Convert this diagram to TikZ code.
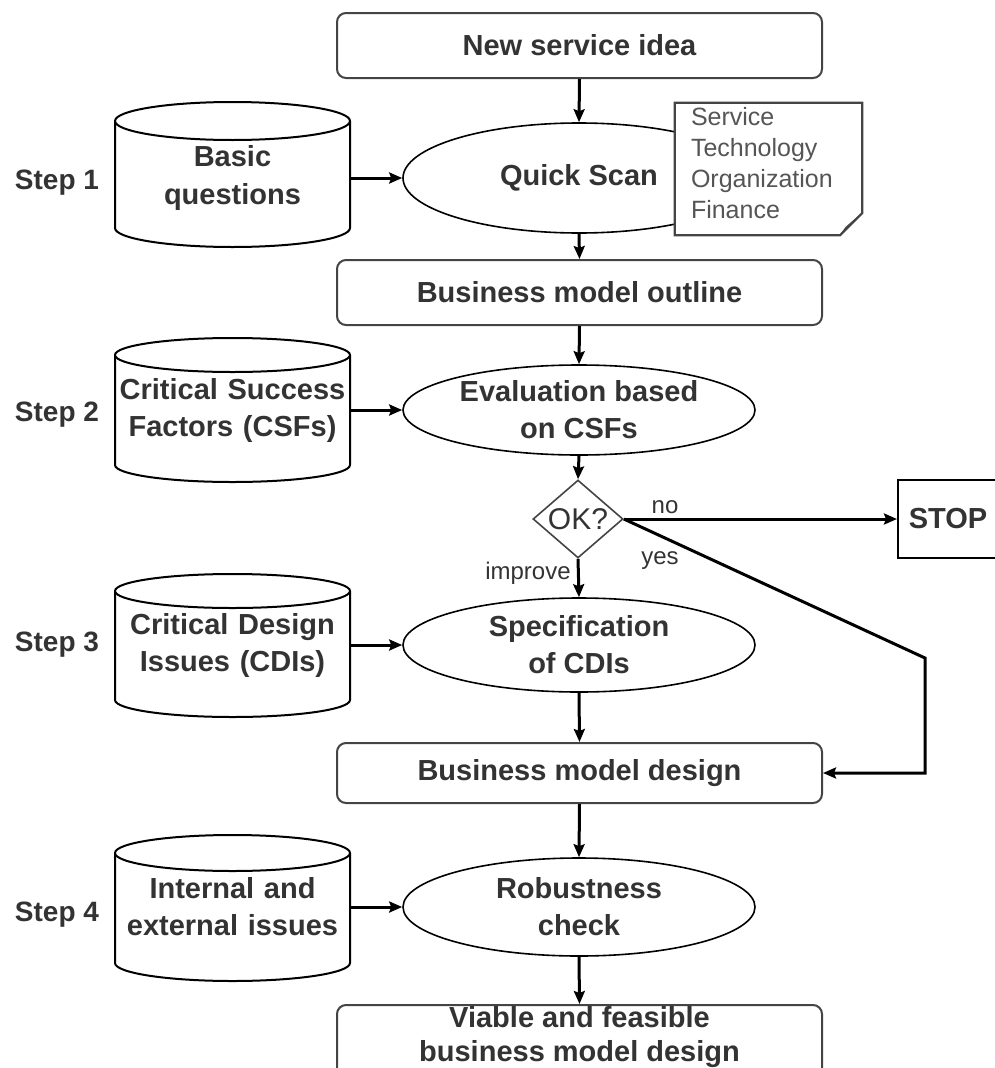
\documentclass[tikz,border=0pt]{standalone}
\usepackage{fontspec}
\setmainfont{Liberation Sans}
\usetikzlibrary{shapes.geometric,arrows.meta,calc}
\definecolor{ink}{HTML}{333333}
\definecolor{edge}{HTML}{444444}
\definecolor{notegray}{HTML}{555555}

% database drum: centre x, top rim y, bottom rim y, rim half-height
\newcommand\drum[4]{%
  \filldraw[cylline] (#1-117.5,#2) -- (#1-117.5,#3)
     arc[start angle=180,end angle=360,x radius=117.5pt,y radius=#4pt]
     -- (#1+117.5,#2)
     arc[start angle=0,end angle=180,x radius=117.5pt,y radius=#4pt] -- cycle;
  \draw[cylline] (#1+117.5,#2)
     arc[start angle=0,end angle=-180,x radius=117.5pt,y radius=#4pt];
}

\begin{document}
\begin{tikzpicture}[x=1pt,y=1pt,
  txt/.style={font=\fontsize{29}{37}\selectfont\bfseries, text=ink, align=center},
  box/.style={txt, draw=edge, line width=2pt, rounded corners=9pt, fill=white,
              minimum width=485pt, minimum height=65pt, inner sep=0pt},
  proc/.style={txt, ellipse, draw=black, line width=1.6pt, fill=white,
               minimum width=352pt, inner sep=0pt},
  store/.style={txt, text width=235pt, inner sep=0pt},
  cylline/.style={draw=black, line width=2pt, fill=white},
  flow/.style={draw=black, line width=3pt, -{Stealth[length=13pt,width=11pt,inset=2pt]}},
  steplbl/.style={font=\fontsize{28}{34}\selectfont\bfseries, text=ink},
  small/.style={font=\fontsize{24}{28}\selectfont, text=ink, inner sep=0pt},
  notetxt/.style={font=\fontsize{25}{31}\selectfont, text=notegray, align=left, inner sep=0pt}]

\useasboundingbox (0,0) rectangle (995,-1068);

% data stores
\drum{232.5}{-121}{-228}{19}
\drum{232.5}{-355}{-465}{17}
\drum{232.5}{-591}{-700}{17}
\drum{232.5}{-853}{-963}{18}
\node[store] (q1) at (232.5,-178) {Basic\\questions};
\node[store] (q2) at (232.5,-410) {Critical Success\\Factors (CSFs)};
\node[store] (q3) at (232.5,-645) {Critical Design\\Issues (CDIs)};
\node[store] (q4) at (232.5,-907) {Internal and\\external issues};

% step labels
\node[steplbl] (s1) at (57,-183) {Step 1};
\node[steplbl] (s2) at (57,-415) {Step 2};
\node[steplbl] (s3) at (57,-645) {Step 3};
\node[steplbl] (s4) at (57,-915) {Step 4};

% main flow
\node[box] (idea) at (579.5,-45.5) {New service idea};
\node[proc, minimum height=110pt] (scan) at (579,-178) {Quick Scan};
\node[box] (outline) at (579.5,-292.5) {Business model outline};
\node[proc, minimum height=90pt] (eval) at (579,-410) {Evaluation based\\on CSFs};
\node[diamond, draw=edge, line width=1.6pt, fill=white, minimum width=90pt,
      minimum height=78pt, inner sep=0pt] (ok) at (578,-519) {};
\node[font=\fontsize{30}{34}\selectfont, text=ink, inner sep=0pt] (oktext) at (ok) {OK?};
\node[txt, draw=black, line width=2pt, fill=white, minimum width=100pt,
      minimum height=78pt, inner sep=0pt] (stop) at (948,-519) {STOP};
\node[proc, minimum height=94pt] (spec) at (579,-645) {Specification\\of CDIs};
\node[box, minimum height=60pt] (design) at (579.5,-773) {Business model design};
\node[proc, minimum height=98pt] (rob) at (579,-907) {Robustness\\check};
% final result box runs past the lower edge
\node[box, minimum height=90pt] (viable) at (579.5,-1050) {};
\node[txt, font=\fontsize{29}{34}\selectfont\bfseries, inner sep=0pt]
  (viabletext) at (579.5,-1037) {Viable and feasible\\business model design};

% annotation sheet over the quick scan
\node[minimum width=187pt, minimum height=132pt, inner sep=0pt] (note) at (768.5,-169) {};
\filldraw[draw=edge, line width=2.2pt, fill=white]
  (note.north west) -- (note.north east) -- ($(note.south east)+(0,22)$)
  -- ($(note.south east)+(-22,0)$) -- (note.south west) -- cycle;
\draw[edge, line width=1.2pt] ($(note.south east)+(0,22)$) -- ($(note.south east)+(-16,8)$)
  -- ($(note.south east)+(-22,0)$);
\node[notetxt, anchor=west] (notetext) at ($(note.west)+(16,6)$)
  {Service\\Technology\\Organization\\Finance};

% connectors
\draw[flow] (idea.south) -- (scan.north);
\draw[flow] (q1.east) -- (scan.west);
\draw[flow] (scan.south) -- (outline.north);
\draw[flow] (outline.south) -- (eval.north);
\draw[flow] (q2.east) -- (eval.west);
\draw[flow] (eval.south) -- (ok.north);
\draw[flow] (ok.east) -- (stop.west);
\coordinate (bend) at (925,-658);
\draw[flow] (ok.east) -- (bend) |- (design.east);
\draw[flow] (ok.south) -- (spec.north);
\draw[flow] (q3.east) -- (spec.west);
\draw[flow] (spec.south) -- (design.north);
\draw[flow] (design.south) -- (rob.north);
\draw[flow] (q4.east) -- (rob.west);
\draw[flow] (rob.south) -- (viable.north);

% branch labels
\node[small] (lno) at (665,-507) {no};
\node[small] (lyes) at (660,-561) {yes};
\node[small] (limp) at (528,-573) {improve};

\end{tikzpicture}
\end{document}
